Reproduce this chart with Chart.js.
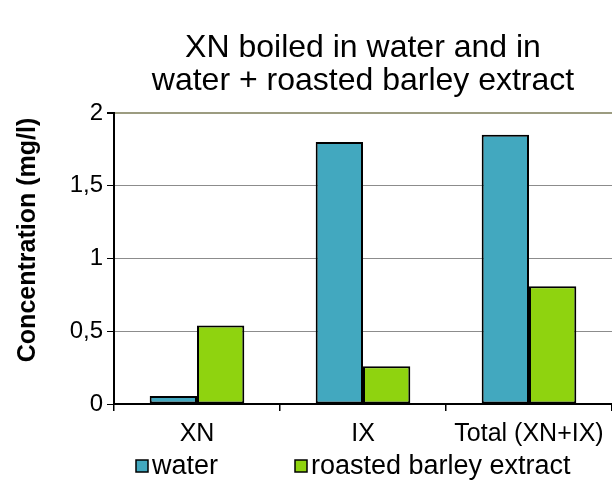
<!DOCTYPE html>
<html>
<head>
<meta charset="utf-8">
<script src="https://cdn.jsdelivr.net/npm/chart.js@4/dist/chart.umd.min.js"></script>
<style>
  html, body { margin: 0; padding: 0; background: #fff; }
  #wrap { width: 612px; height: 481px; }
</style>
</head>
<body>
<div id="wrap"><canvas id="chart"></canvas></div>
<script>
// ===== Data =====
const categories = ['XN', 'IX', 'Total (XN+IX)'];
const waterValues = [0.055, 1.80, 1.85];
const barleyValues = [0.54, 0.26, 0.81];
const seriesLabels = ['water', 'roasted barley extract'];
const titleLines = ['XN boiled in water and in', 'water + roasted barley extract'];
const yTitle = 'Concentration (mg/l)';
const yTicks = [0, 0.5, 1, 1.5, 2];

const FONT = '"Liberation Sans", Arial, sans-serif';
const COLORS = { water: '#42a8bf', barley: '#8fd30f' };

// chart title centred over the plot area, plus the rotated y title
const titlePlugin = {
    id: 'plotTitle',
    afterDraw(chart) {
        const { ctx, chartArea } = chart;
        const cx = (chartArea.left + chartArea.right) / 2;
        ctx.save();
        ctx.fillStyle = '#000';
        ctx.font = '32px ' + FONT;
        ctx.textAlign = 'center';
        ctx.textBaseline = 'alphabetic';
        titleLines.forEach((t, i) => ctx.fillText(t, cx, 57 + i * 33));

        ctx.translate(28, 240);
        ctx.rotate(-Math.PI / 2);
        ctx.font = 'bold 25px ' + FONT;
        ctx.textBaseline = 'middle';
        ctx.fillText(yTitle, 0, 0);
        ctx.restore();
    }
};

// legend under the axis, boxes with black outline
const legendPlugin = {
    id: 'bottomLegend',
    afterDraw(chart) {
        const { ctx } = chart;
        const xs = [136, 295];
        const y = 466;
        ctx.save();
        ctx.font = '27px ' + FONT;
        ctx.textBaseline = 'middle';
        chart.data.datasets.forEach((ds, i) => {
            ctx.fillStyle = ds.backgroundColor;
            ctx.fillRect(xs[i], y - 6, 12, 12);
            ctx.strokeStyle = '#000';
            ctx.lineWidth = 1.5;
            ctx.strokeRect(xs[i], y - 6, 12, 12);
            ctx.fillStyle = '#000';
            ctx.fillText(ds.label, xs[i] + 16, y + 1);
        });
        ctx.restore();
    }
};

new Chart(document.getElementById('chart'), {
    type: 'bar',
    data: {
        labels: categories,
        datasets: [
            { label: seriesLabels[0], data: waterValues, backgroundColor: COLORS.water, borderColor: '#000', borderWidth: 2, borderSkipped: false },
            { label: seriesLabels[1], data: barleyValues, backgroundColor: COLORS.barley, borderColor: '#000', borderWidth: 2, borderSkipped: false }
        ]
    },
    options: {
        responsive: true,
        maintainAspectRatio: false,
        animation: false,
        layout: { padding: { top: 113, right: 0, bottom: 17, left: 0 } },
        plugins: { legend: { display: false }, title: { display: false }, tooltip: { enabled: false } },
        datasets: { bar: { barPercentage: 1, categoryPercentage: 0.57 } },
        scales: {
            x: {
                afterFit(scale) { scale.height = 60; },
                grid: { display: true, drawOnChartArea: false, offset: true, tickLength: 7, color: '#000', lineWidth: 1.5 },
                border: { display: true, color: '#000', width: 2 },
                ticks: { color: '#000', font: { family: FONT, size: 25 }, padding: 8, maxRotation: 0 }
            },
            y: {
                min: 0, max: 2,
                afterFit(scale) { scale.width = 114; },
                afterBuildTicks(scale) { scale.ticks = yTicks.map(v => ({ value: v })); },
                grid: {
                    color: c => c.tick && c.tick.value === 2 ? '#9c9c80' : '#8c8c8c',
                    lineWidth: c => c.tick && c.tick.value === 2 ? 2 : 1,
                    tickColor: '#000', tickLength: 7
                },
                border: { display: true, color: '#000', width: 2 },
                ticks: {
                    color: '#000', font: { family: FONT, size: 24 }, padding: 4,
                    callback: v => String(v).replace('.', ',')
                }
            }
        }
    },
    plugins: [titlePlugin, legendPlugin]
});
</script>
</body>
</html>
